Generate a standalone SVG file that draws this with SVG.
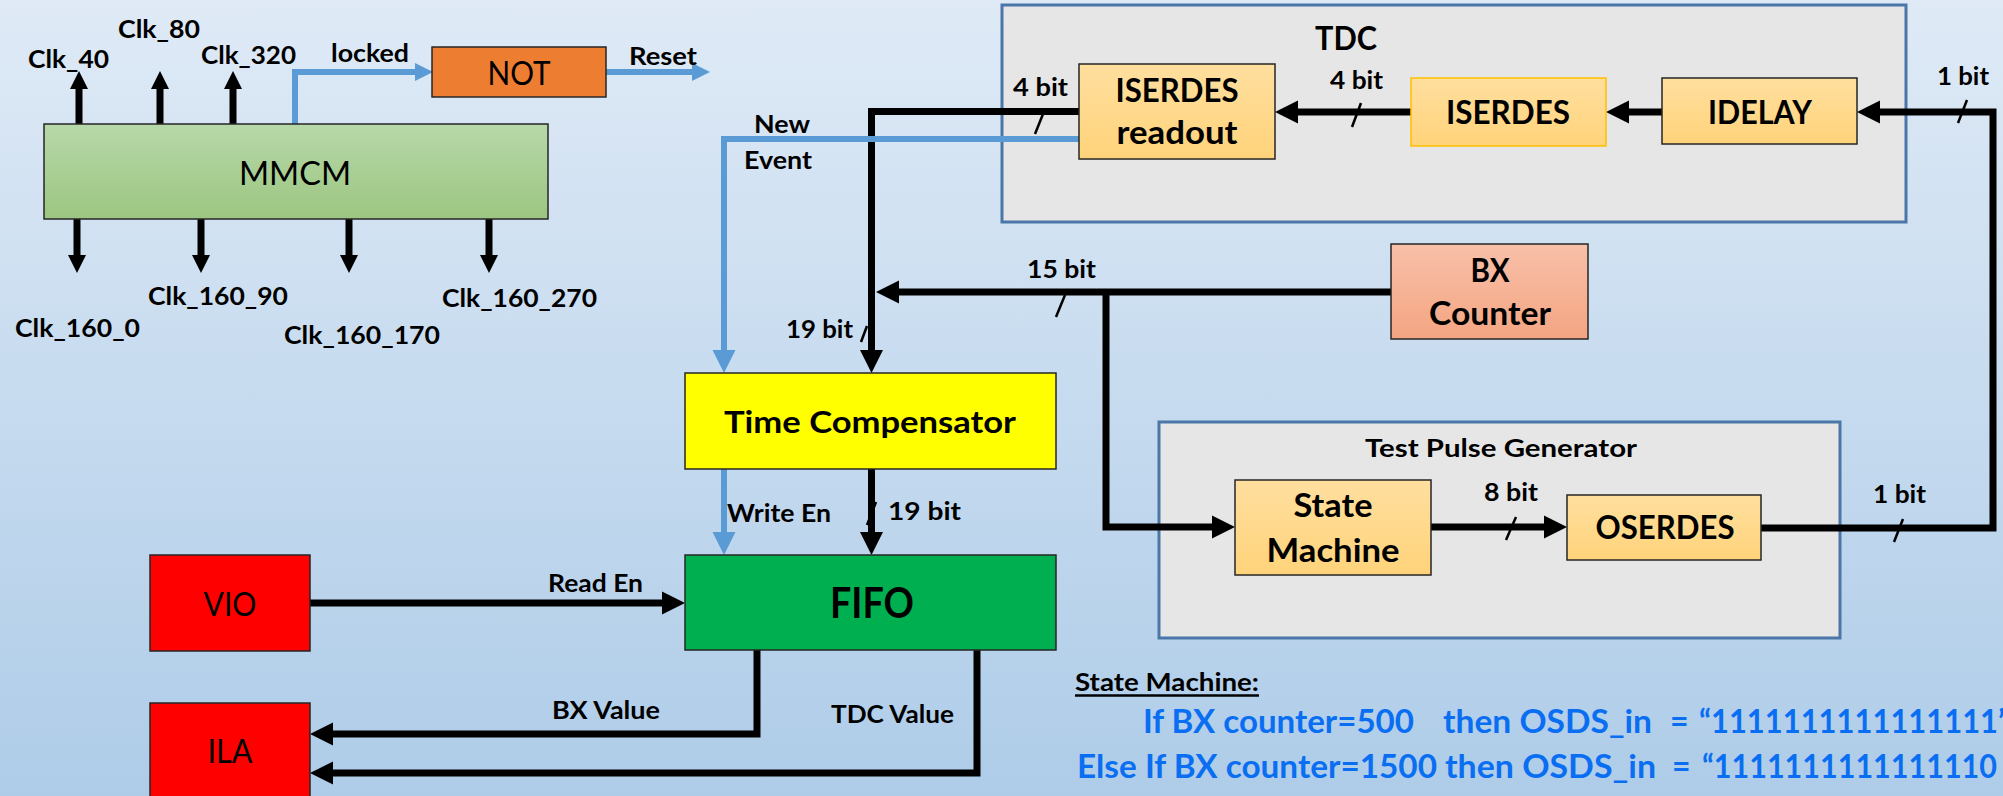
<svg xmlns="http://www.w3.org/2000/svg" width="2003" height="796" viewBox="0 0 2003 796">
<defs>
<linearGradient id="bg" x1="0" y1="0" x2="0" y2="1"><stop offset="0" stop-color="#dfeaf6"/><stop offset="1" stop-color="#aecce8"/></linearGradient>
<linearGradient id="gGreen" x1="0" y1="0" x2="0" y2="1"><stop offset="0" stop-color="#b7d8a9"/><stop offset="1" stop-color="#9cc681"/></linearGradient>
<linearGradient id="gOrange" x1="0" y1="0" x2="0" y2="1"><stop offset="0" stop-color="#ffdf9f"/><stop offset="1" stop-color="#ffd37a"/></linearGradient>
<linearGradient id="gSalmon" x1="0" y1="0" x2="0" y2="1"><stop offset="0" stop-color="#f8c0a9"/><stop offset="1" stop-color="#f4a582"/></linearGradient>
<marker id="ahB" markerUnits="userSpaceOnUse" markerWidth="23" markerHeight="23" refX="0" refY="11.5" orient="auto" overflow="visible"><path d="M0,0 L23,11.5 L0,23 z" fill="#000"/></marker>
<marker id="ahBs" markerUnits="userSpaceOnUse" markerWidth="18" markerHeight="18" refX="0" refY="9" orient="auto" overflow="visible"><path d="M0,0 L18,9 L0,18 z" fill="#000"/></marker>
<marker id="ahL" markerUnits="userSpaceOnUse" markerWidth="23" markerHeight="23" refX="0" refY="11.5" orient="auto" overflow="visible"><path d="M0,0 L23,11.5 L0,23 z" fill="#5b9bd5"/></marker>
<marker id="ahLs" markerUnits="userSpaceOnUse" markerWidth="18" markerHeight="18" refX="0" refY="9" orient="auto" overflow="visible"><path d="M0,0 L18,9 L0,18 z" fill="#5b9bd5"/></marker>
</defs>
<style>
text{font-family:Lato,"Liberation Sans",sans-serif;fill:#000}
.b{font-weight:bold}
.lbl{font-weight:bold;font-size:25px}
.ttl{font-weight:bold;font-size:32px}
.reg{font-weight:normal;font-size:32px}
.blue{font-weight:bold;font-size:32px;fill:#0a6ef2}
.box{stroke:#262626;stroke-width:1.5}
.grp{fill:#e6e6e6;stroke:#4a76a8;stroke-width:3}
.wk{fill:none;stroke:#000;stroke-width:7;stroke-linejoin:miter}
.wkb{fill:none;stroke:#5b9bd5;stroke-width:6;stroke-linejoin:miter}
.sl{stroke:#000;stroke-width:2.5}
</style>
<rect x="0" y="0" width="2003" height="796" fill="url(#bg)"/>

<g id="tdc-group">
<rect class="grp" x="1002" y="5" width="904" height="217"/>
<text class="ttl" x="1346" y="50" text-anchor="middle" textLength="62" lengthAdjust="spacingAndGlyphs">TDC</text>
</g>
<g id="tpg-group">
<rect class="grp" x="1159" y="422" width="681" height="216"/>
<text class="lbl" x="1501" y="457" text-anchor="middle" textLength="272" lengthAdjust="spacingAndGlyphs">Test Pulse Generator</text>
</g>

<g id="connectors">
<path class="wk" d="M79,124 V89" marker-end="url(#ahBs)"/>
<path class="wk" d="M160,124 V89" marker-end="url(#ahBs)"/>
<path class="wk" d="M233,124 V89" marker-end="url(#ahBs)"/>
<path class="wk" d="M77,219 V255" marker-end="url(#ahBs)"/>
<path class="wk" d="M201,219 V255" marker-end="url(#ahBs)"/>
<path class="wk" d="M349,219 V255" marker-end="url(#ahBs)"/>
<path class="wk" d="M489,219 V255" marker-end="url(#ahBs)"/>
<path class="wkb" d="M295,124 V72 H415" marker-end="url(#ahLs)"/>
<path class="wkb" d="M606,72 H692" marker-end="url(#ahLs)"/>
<path class="wk" d="M1761,528 H1993 V112 H1880" marker-end="url(#ahB)"/>
<path class="wk" d="M1662,112 H1629" marker-end="url(#ahB)"/>
<path class="wk" d="M1411,112 H1298" marker-end="url(#ahB)"/>
<path class="wk" d="M1079,111.5 H871.5 V350" marker-end="url(#ahB)"/>
<path class="wkb" d="M1079,139 H724 V350" marker-end="url(#ahL)"/>
<path class="wk" d="M1391,292 H899" marker-end="url(#ahB)"/>
<path class="wk" d="M1106,292 V527 H1212" marker-end="url(#ahB)"/>
<path class="wk" d="M1431,527 H1544" marker-end="url(#ahB)"/>
<path class="wkb" d="M724,469 V532" marker-end="url(#ahL)"/>
<path class="wk" d="M871.5,469 V532" marker-end="url(#ahB)"/>
<path class="wk" d="M310,603 H662" marker-end="url(#ahB)"/>
<path class="wk" d="M757,650 V734 H333" marker-end="url(#ahB)"/>
<path class="wk" d="M977,650 V773 H333" marker-end="url(#ahB)"/>
<line class="sl" x1="1035" y1="134" x2="1043" y2="114"/>
<line class="sl" x1="1352" y1="127" x2="1361" y2="103"/>
<line class="sl" x1="1958" y1="123" x2="1967" y2="100"/>
<line class="sl" x1="1056" y1="317" x2="1065" y2="295"/>
<line class="sl" x1="861" y1="342" x2="867" y2="326"/>
<line class="sl" x1="867" y1="525" x2="876" y2="502"/>
<line class="sl" x1="1506" y1="540" x2="1516" y2="517"/>
<line class="sl" x1="1894" y1="542" x2="1903" y2="519"/>
<text class="lbl" x="28" y="68" textLength="81" lengthAdjust="spacingAndGlyphs">Clk_40</text>
<text class="lbl" x="118" y="38" textLength="82" lengthAdjust="spacingAndGlyphs">Clk_80</text>
<text class="lbl" x="201" y="64" textLength="95" lengthAdjust="spacingAndGlyphs">Clk_320</text>
<text class="lbl" x="331" y="62" textLength="78" lengthAdjust="spacingAndGlyphs">locked</text>
<text class="lbl" x="629" y="65" textLength="68" lengthAdjust="spacingAndGlyphs">Reset</text>
<text class="lbl" x="15" y="337" textLength="125" lengthAdjust="spacingAndGlyphs">Clk_160_0</text>
<text class="lbl" x="148" y="305" textLength="140" lengthAdjust="spacingAndGlyphs">Clk_160_90</text>
<text class="lbl" x="284" y="344" textLength="156" lengthAdjust="spacingAndGlyphs">Clk_160_170</text>
<text class="lbl" x="442" y="307" textLength="155" lengthAdjust="spacingAndGlyphs">Clk_160_270</text>
<text class="lbl" x="1013" y="96" textLength="55" lengthAdjust="spacingAndGlyphs">4 bit</text>
<text class="lbl" x="1330" y="89" textLength="53" lengthAdjust="spacingAndGlyphs">4 bit</text>
<text class="lbl" x="1937" y="85" textLength="52" lengthAdjust="spacingAndGlyphs">1 bit</text>
<text class="lbl" x="754" y="133" textLength="56" lengthAdjust="spacingAndGlyphs">New</text>
<text class="lbl" x="744" y="169" textLength="68" lengthAdjust="spacingAndGlyphs">Event</text>
<text class="lbl" x="1027" y="278" textLength="69" lengthAdjust="spacingAndGlyphs">15 bit</text>
<text class="lbl" x="786" y="338" textLength="67" lengthAdjust="spacingAndGlyphs">19 bit</text>
<text class="lbl" x="727" y="522" textLength="104" lengthAdjust="spacingAndGlyphs">Write En</text>
<text class="lbl" x="888" y="520" textLength="73" lengthAdjust="spacingAndGlyphs">19 bit</text>
<text class="lbl" x="1484" y="501" textLength="54" lengthAdjust="spacingAndGlyphs">8 bit</text>
<text class="lbl" x="1873" y="503" textLength="53" lengthAdjust="spacingAndGlyphs">1 bit</text>
<text class="lbl" x="548" y="592" textLength="95" lengthAdjust="spacingAndGlyphs">Read En</text>
<text class="lbl" x="552" y="719" textLength="108" lengthAdjust="spacingAndGlyphs">BX Value</text>
<text class="lbl" x="831" y="723" textLength="123" lengthAdjust="spacingAndGlyphs">TDC Value</text>
</g>

<g id="mmcm">
<rect class="box" x="44" y="124" width="504" height="95" fill="url(#gGreen)"/>
<text class="reg" x="295" y="185" text-anchor="middle" textLength="112" lengthAdjust="spacingAndGlyphs">MMCM</text>
</g>
<g id="not">
<rect class="box" x="432" y="47" width="174" height="50" fill="#ed7d31"/>
<text class="reg" x="519" y="85" text-anchor="middle" textLength="63" lengthAdjust="spacingAndGlyphs">NOT</text>
</g>
<g id="iserdes-readout">
<rect class="box" x="1079" y="64" width="196" height="95" fill="url(#gOrange)"/>
<text class="ttl" x="1177" y="102" text-anchor="middle" textLength="123" lengthAdjust="spacingAndGlyphs">ISERDES</text>
<text class="ttl" x="1177" y="144" text-anchor="middle" textLength="121" lengthAdjust="spacingAndGlyphs">readout</text>
</g>
<g id="iserdes">
<rect x="1411" y="78" width="195" height="68" fill="url(#gOrange)" stroke="#ffc000" stroke-width="1.5"/>
<text class="ttl" x="1508" y="124" text-anchor="middle" textLength="124" lengthAdjust="spacingAndGlyphs">ISERDES</text>
</g>
<g id="idelay">
<rect class="box" x="1662" y="78" width="195" height="66" fill="url(#gOrange)"/>
<text class="ttl" x="1760" y="124" text-anchor="middle" textLength="104" lengthAdjust="spacingAndGlyphs">IDELAY</text>
</g>
<g id="bx-counter">
<rect class="box" x="1391" y="244" width="197" height="95" fill="url(#gSalmon)"/>
<text class="ttl" x="1490" y="282" text-anchor="middle" textLength="39" lengthAdjust="spacingAndGlyphs">BX</text>
<text class="ttl" x="1490" y="325" text-anchor="middle" textLength="122" lengthAdjust="spacingAndGlyphs">Counter</text>
</g>
<g id="time-compensator">
<rect class="box" x="685" y="373" width="371" height="96" fill="#ffff00"/>
<text class="b" font-size="31" x="870" y="433" text-anchor="middle" textLength="292" lengthAdjust="spacingAndGlyphs">Time Compensator</text>
</g>
<g id="fifo">
<rect class="box" x="685" y="555" width="371" height="95" fill="#00b050"/>
<text class="b" font-size="42" x="872" y="618" text-anchor="middle" textLength="84" lengthAdjust="spacingAndGlyphs">FIFO</text>
</g>
<g id="vio">
<rect class="box" x="150" y="555" width="160" height="96" fill="#ff0000"/>
<text class="reg" x="230" y="616" text-anchor="middle" textLength="53" lengthAdjust="spacingAndGlyphs">VIO</text>
</g>
<g id="ila">
<rect class="box" x="150" y="703" width="160" height="100" fill="#ff0000"/>
<text class="reg" x="230" y="763" text-anchor="middle" textLength="45" lengthAdjust="spacingAndGlyphs">ILA</text>
</g>
<g id="state-machine">
<rect class="box" x="1235" y="480" width="196" height="95" fill="url(#gOrange)"/>
<text class="ttl" x="1333" y="517" text-anchor="middle" textLength="79" lengthAdjust="spacingAndGlyphs">State</text>
<text class="ttl" x="1333" y="562" text-anchor="middle" textLength="133" lengthAdjust="spacingAndGlyphs">Machine</text>
</g>
<g id="oserdes">
<rect class="box" x="1567" y="495" width="194" height="65" fill="url(#gOrange)"/>
<text class="ttl" x="1665" y="539" text-anchor="middle" textLength="139" lengthAdjust="spacingAndGlyphs">OSERDES</text>
</g>

<g id="note">
<text class="b" font-size="25" x="1075" y="691" textLength="184" lengthAdjust="spacingAndGlyphs">State Machine:</text>
<line x1="1075" y1="695.5" x2="1259" y2="695.5" stroke="#000" stroke-width="2.5"/>
<text class="blue" x="1143" y="733" textLength="271" lengthAdjust="spacingAndGlyphs">If BX counter=500</text>
<text class="blue" x="1443" y="733" textLength="209" lengthAdjust="spacingAndGlyphs">then OSDS_in</text>
<text class="blue" x="1670" y="733">=</text>
<text class="blue" x="1699" y="733" textLength="311" lengthAdjust="spacingAndGlyphs">“1111111111111111”</text>
<text class="blue" x="1077" y="778" textLength="360" lengthAdjust="spacingAndGlyphs">Else If BX counter=1500</text>
<text class="blue" x="1445" y="778" textLength="211" lengthAdjust="spacingAndGlyphs">then OSDS_in</text>
<text class="blue" x="1672" y="778">=</text>
<text class="blue" x="1702" y="778" textLength="295" lengthAdjust="spacingAndGlyphs">“1111111111111110</text>
</g>
</svg>
